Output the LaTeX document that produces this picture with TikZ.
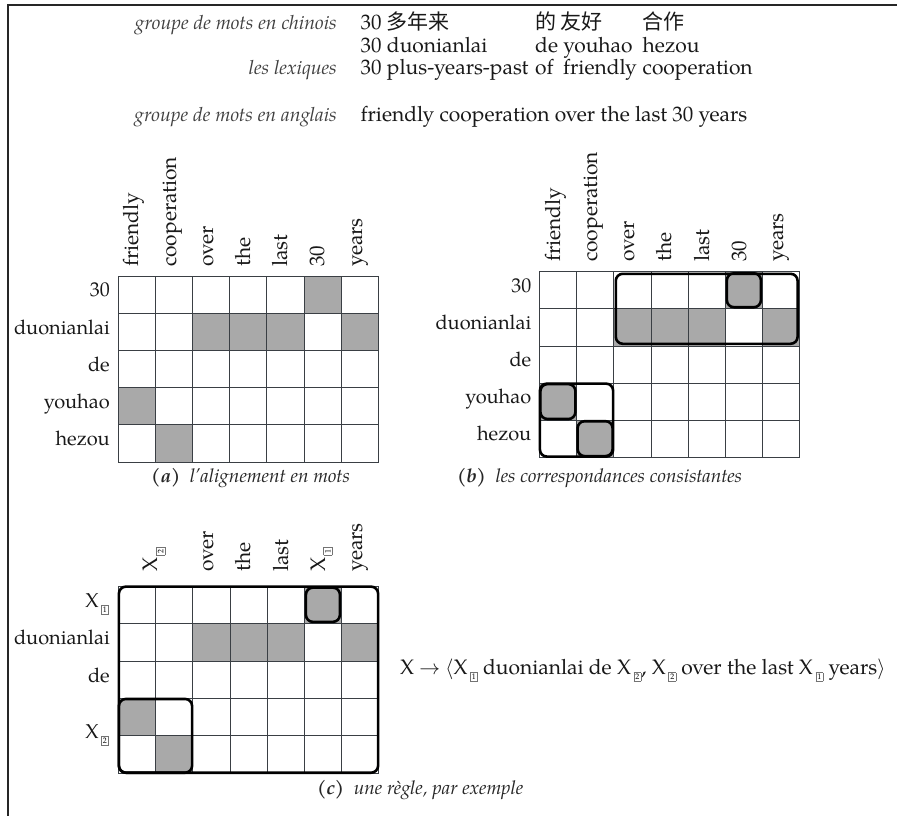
\documentclass[tikz,border=0pt]{standalone}
\usepackage{fontspec}
\setmainfont{TeX Gyre Pagella}
\newfontfamily\cjk{Noto Sans CJK SC}
\usetikzlibrary{fit}
\definecolor{shadecol}{HTML}{A9A9A9}
\definecolor{gridcol}{HTML}{3A3F44}
\newcommand{\bxn}[1]{\kern0.12em\raisebox{-0.55ex}{\fboxsep=1.3pt\fboxrule=0.6pt\color{black!55}\fbox{\color{black}\fontsize{8}{8}\selectfont #1}}}
\tikzset{
  txt/.style={font=\fontsize{20}{24}\selectfont, inner sep=0pt, text=black!90},
  toptxt/.style={font=\fontsize{21}{24}\selectfont, inner sep=0pt, text=black!90, anchor=mid west},
  lab/.style={font=\fontsize{19.5}{24}\selectfont\itshape, inner sep=0pt, text=black!75, anchor=mid east},
  captxt/.style={font=\fontsize{19}{23}\selectfont\itshape, inner sep=0pt, text=black!85},
  cell/.style={draw=gridcol, line width=0.8pt, minimum width=37.2pt, inner sep=0pt},
  shaded/.style={cell, fill=shadecol},
  rbox/.style={draw=black, line width=2.6pt, rounded corners=7pt, inner sep=0pt},
  rowlab/.style={txt, anchor=mid east},
  collab/.style={txt, font=\fontsize{21}{24}\selectfont, rotate=90, anchor=mid west},
}
\newcommand{\mkgrid}[4]{%
  \foreach \r in {1,...,5} \foreach \c in {1,...,7} {
    \node[cell, minimum height=#4pt] (#1-\r-\c) at ({#2+37.2*(\c-0.5)},{#3+#4*(\r-0.5)}) {};
  }
  \foreach \r/\c in {1/6,2/3,2/4,2/5,2/7,4/1,5/2} {
    \node[shaded, minimum height=#4pt] (#1-s-\r-\c) at (#1-\r-\c) {};
  }
}
\begin{document}
\begin{tikzpicture}[x=1pt,y=-1pt]
\useasboundingbox (0,0) rectangle (897,816);
\fill[white] (0,0) rectangle (897,816);
% frame
\draw[line width=2pt, black!85] (7.5,816) -- (7.5,5) -- (897,5);

% top text
\node[lab] (l1) at (337,27.5) {groupe de mots en chinois};
\node[toptxt] (z1) at (360.5,27.5) {30 {\cjk 多年来}};
\node[toptxt] (z2) at (535,27.5) {{\cjk 的 友好}};
\node[toptxt] (z3) at (642.5,27.5) {{\cjk 合作}};
\node[toptxt] (p1) at (360.5,50) {30 duonianlai};
\node[toptxt] (p2) at (535,50) {de youhao};
\node[toptxt] (p3) at (642.5,50) {hezou};
\node[lab] (l3) at (337,72) {les lexiques};
\node[toptxt] (e1) at (360.5,72) {30 plus-years-past};
\node[toptxt] (e2) at (535,72) {of};
\node[toptxt] (e3) at (563,72) {friendly};
\node[toptxt] (e4) at (642.5,72) {cooperation};
\node[lab] (l4) at (337,119.5) {groupe de mots en anglais};
\node[toptxt] (en) at (360.5,119.5) {friendly cooperation over the last 30 years};

% grid (a)
\mkgrid{a}{118}{276}{37.2}
\foreach \t [count=\c] in {friendly,cooperation,over,the,last,30,years}
  \node[collab] (a-c\c) at ({118+37.2*(\c-0.5)},267) {\t};
\foreach \t [count=\r] in {30,duonianlai,de,youhao,hezou}
  \node[rowlab] (a-r\r) at (110,{276+37.2*(\r-0.5)}) {\t};
\node[captxt, anchor=mid west] (capa) at (151,480) {\textbf{(a)}\ \ l'alignement en mots};

% grid (b)
\mkgrid{b}{539.3}{271.7}{37.1}
\foreach \t [count=\c] in {friendly,cooperation,over,the,last,30,years}
  \node[collab] (b-c\c) at ({539.3+37.2*(\c-0.5)},262) {\t};
\foreach \t [count=\r] in {30,duonianlai,de,youhao,hezou}
  \node[rowlab] (b-r\r) at (531.5,{271.7+37.1*(\r-0.5)}) {\t};
\node[rbox, fit=(b-1-3)(b-2-7), inner sep=-2.5pt] (b-box1) {};
\node[rbox, fit=(b-1-6), inner sep=-2pt] (b-box2) {};
\node[rbox, fit=(b-4-1)(b-5-2), inner sep=-1pt] (b-box3) {};
\node[rbox, fit=(b-4-1), inner sep=-1.5pt] (b-box4) {};
\node[rbox, fit=(b-5-2), inner sep=-1.5pt] (b-box5) {};
\node[captxt, anchor=mid west] (capb) at (457,480) {\textbf{(b)}\ \ les correspondances consistantes};

% grid (c)
\mkgrid{c}{118.3}{586}{37.46}
\node[collab] (c-c12) at ({118.3+37.2},572) {X\bxn{2}};
\foreach \t [count=\c from 3] in {over,the,last}
  \node[collab] (c-c\c) at ({118.3+37.2*(\c-0.5)},572) {\t};
\node[collab] (c-c6) at ({118.3+37.2*5.5},572) {X\bxn{1}};
\node[collab] (c-c7) at ({118.3+37.2*6.5},572) {years};
\node[rowlab] (c-r1) at (109,{586+37.46*0.5}) {X\bxn{1}};
\node[rowlab] (c-r2) at (110,{586+37.46*1.5}) {duonianlai};
\node[rowlab] (c-r3) at (110,{586+37.46*2.5}) {de};
\node[rowlab] (c-r45) at (109,{586+37.46*4}) {X\bxn{2}};
\node[rbox, fit=(c-1-1)(c-5-7), inner sep=-1pt] (c-box1) {};
\node[rbox, fit=(c-1-6), inner sep=-2pt] (c-box2) {};
\node[rbox, fit=(c-4-1)(c-5-2), inner sep=-1pt] (c-box3) {};
\node[txt, font=\fontsize{21}{24}\selectfont, anchor=mid west] (rule) at (400,672) {X $\rightarrow$ $\langle$X\bxn{1} duonianlai de X\bxn{2}, X\bxn{2} over the last X\bxn{1} years$\rangle$};
\node[captxt, anchor=mid west] (capc) at (317,792) {\textbf{(c)}\ \ une règle, par exemple};
\end{tikzpicture}
\end{document}
